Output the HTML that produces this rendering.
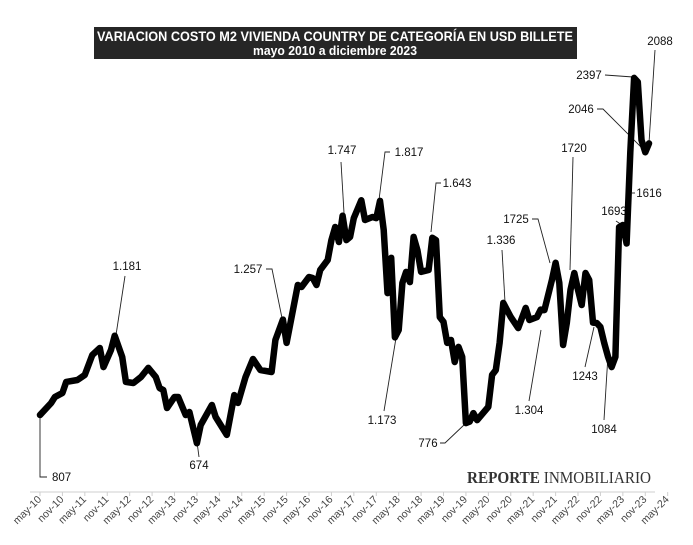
<!DOCTYPE html>
<html><head><meta charset="utf-8"><style>
html,body{margin:0;padding:0;background:#fff;}
svg{display:block;}
</style></head><body>
<svg id="chart" width="693" height="545" viewBox="0 0 693 545" xmlns="http://www.w3.org/2000/svg">
<rect x="94" y="27" width="483" height="32" fill="#262626"/>
<text x="335" y="41" text-anchor="middle" fill="#fff" font-family="'Liberation Sans Narrow','Liberation Sans',sans-serif" font-weight="bold" font-size="13.5" textLength="476" lengthAdjust="spacingAndGlyphs">VARIACION COSTO M2 VIVIENDA COUNTRY DE CATEGORÍA EN USD BILLETE</text>
<text x="335" y="55" text-anchor="middle" fill="#fff" font-family="'Liberation Sans Narrow','Liberation Sans',sans-serif" font-weight="bold" font-size="12.5" textLength="164" lengthAdjust="spacingAndGlyphs">mayo 2010 a diciembre 2023</text>
<text x="467" y="483" fill="#333" font-family="'Liberation Serif',serif" font-size="16.5" textLength="184" lengthAdjust="spacingAndGlyphs"><tspan font-weight="bold">REPORTE</tspan> INMOBILIARIO</text>
<line x1="30" y1="492" x2="655" y2="492" stroke="#cfcfcf" stroke-width="1"/>
<g id="ticks"></g>
<g id="annots"></g>
<g id="series"></g>
</svg>
<script>
// months since may-2010 and values (USD/m2)
const months = [0,3,4,6,7,10,12,14,16,17,19,20,22,23,25,27,29,31,32,33,34,36,37,39,40,42,43,46,47,50,52,53,55,57,59,62,63,65,66,69,70,72,73,74,75,77,78,79,80,81,82,83,84,86,87,89,90,91,92,93,94,95,96,97,98,99,100,101,102,104,105,106,107,108,109,110,111,112,113,114,115,116,117,120,121,122,123,124,126,128,130,131,133,134,135,137,138,139,140,141,142,143,144,145,146,147,148,149,150,151,152,153,154,155,156,157,158,159,160,161,162,163];
const values = [807,864,892,911,963,972,996,1090,1123,1033,1114,1181,1081,963,958,986,1029,986,934,925,840,892,892,807,821,674,760,854,798,713,901,864,986,1071,1019,1010,1161,1257,1147,1420,1411,1458,1453,1420,1491,1538,1632,1694,1623,1747,1632,1647,1736,1820,1727,1741,1736,1817,1680,1382,1548,1173,1208,1430,1482,1434,1647,1585,1482,1491,1643,1632,1269,1246,1147,1161,1057,1128,1081,769,776,816,783,845,996,1019,1147,1336,1269,1217,1312,1255,1269,1304,1302,1444,1525,1430,1137,1241,1397,1477,1397,1326,1477,1444,1243,1241,1222,1147,1084,1033,1081,1693,1703,1616,2046,2397,2378,2104,2046,2088];
const tickLabels = ["may-10","nov-10","may-11","nov-11","may-12","nov-12","may-13","nov-13","may-14","nov-14","may-15","nov-15","may-16","nov-16","may-17","nov-17","may-18","nov-18","may-19","nov-19","may-20","nov-20","may-21","nov-21","may-22","nov-22","may-23","nov-23","may-24"];
const labelTexts = ["807","1.181","674","1.257","1.747","1.817","1.643","1.173","776","1.336","1725","1.304","1720","1243","1084","1693","1616","2046","2397","2088"];

const NS="http://www.w3.org/2000/svg";
const X0=40, X1=649, M1=163;
function xs(m){return X0+m*(X1-X0)/M1;}
function ys(v){return 415-(v-807)*0.212;}
function mk(tag,attrs,parent){const e=document.createElementNS(NS,tag);for(const k in attrs)e.setAttribute(k,attrs[k]);parent.appendChild(e);return e;}

const tg=document.getElementById('ticks');
tickLabels.forEach((t,i)=>{
  const x=xs(i*6);
  const tk=mk('line',{x1:x,y1:492,x2:x,y2:496,stroke:'#cfcfcf'},tg);
  
  
  const tx=mk('text',{x:x+2,y:500,'text-anchor':'end','font-size':'10.5',fill:'#444','font-family':"'Liberation Sans Narrow','Liberation Sans',sans-serif",transform:`rotate(-45 ${x+2} 500)`},tg);
  tx.textContent=t;
  
  
});

const sg=document.getElementById('series');
const pts=months.map((m,i)=>xs(m).toFixed(1)+','+ys(values[i]).toFixed(1)).join(' ');
const pl=mk('polyline',{points:pts,fill:'none',stroke:'#000','stroke-width':'6.5','stroke-linejoin':'round','stroke-linecap':'round'},sg);



// annotation layout: [text x, text y, anchor, leader polyline]
const ann=[
 [52,481,'start','40,415 40,477 47,477'],
 [127,270,'middle','125,276 116,335'],
 [199,469,'middle','197,442 199,457'],
 [248,273,'middle','266,269 272,269 282,318'],
 [342,154,'middle','341,162 344,213'],
 [409,156,'middle','390,152 385,152 379,200'],
 [457,187,'middle','441,183 436,183 431,232'],
 [382,424,'middle','384,411 396,338'],
 [428,447,'middle','440,443 445,443 465,424'],
 [501,244,'middle','502,250 505,302'],
 [516,223,'middle','532,219 538,219 550,263'],
 [529,414,'middle','529,401 541,330'],
 [574,152,'middle','573,157 570,270'],
 [585,380,'middle','585,367 594,327'],
 [604,433,'middle','604,420 608,355'],
 [614,215,'middle','616,221 622,225'],
 [649,197,'middle','632,193 635,193'],
 [581,113,'middle','597,109 603,109 642,148'],
 [589,79,'middle','605,75 633,77'],
 [660,45,'middle','655,50 649,143']
];
const ag=document.getElementById('annots');
ann.forEach((a,i)=>{
  const l=mk('polyline',{points:a[3],fill:'none',stroke:'#222','stroke-width':'0.9'},ag);
  
  
  const t=mk('text',{x:a[0],y:a[1],'text-anchor':a[2],'font-size':'11.5',fill:'#111','font-family':"'Liberation Sans Narrow','Liberation Sans',sans-serif"},ag);
  t.textContent=labelTexts[i];
  
  
});
</script>
</body></html>
